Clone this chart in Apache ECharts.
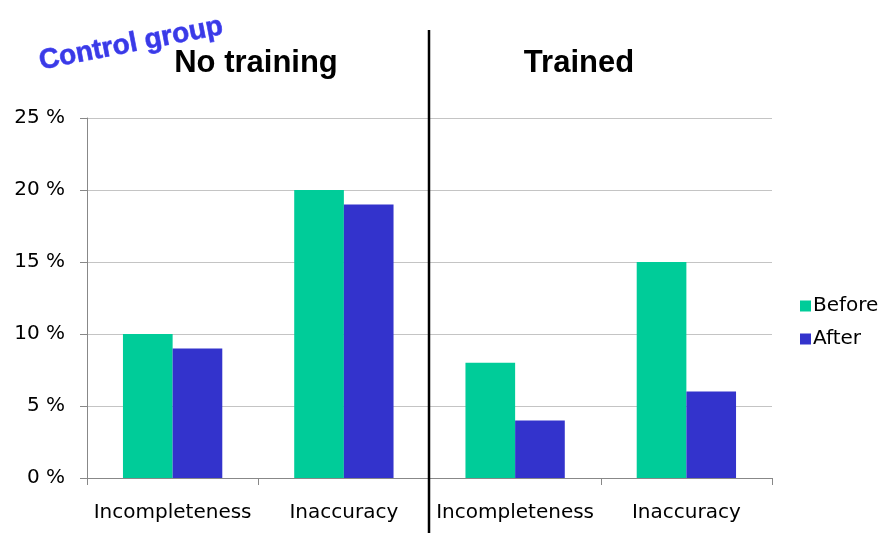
<!DOCTYPE html>
<html>
<head>
<meta charset="utf-8">
<script src="https://cdn.jsdelivr.net/npm/echarts@6/dist/echarts.min.js"></script>
<style>html,body{margin:0;padding:0;background:#fff}#c{width:885px;height:533px}</style>
</head>
<body>
<div id="c"></div>
<script>
const categories = ['Incompleteness', 'Inaccuracy', 'Incompleteness', 'Inaccuracy'];
const beforeValues = [10, 20, 8, 15];
const afterValues = [9, 19, 4, 6];
const yTicks = [0, 5, 10, 15, 20, 25];
const groupTitles = ['No training', 'Trained'];

const chart = echarts.init(document.getElementById('c'));
const font = 'Liberation Sans, Arial, sans-serif';
const labelFont = 'DejaVu Sans, sans-serif';
chart.setOption({
  animation: false,
  textStyle: { fontFamily: font },
  grid: { left: 87, right: 113, top: 118, bottom: 55, containLabel: false },
  legend: {
    orient: 'vertical', left: 795, top: 291,
    itemWidth: 11, itemHeight: 11, itemGap: 13,
    icon: 'rect',
    textStyle: { fontSize: 20, color: '#000', fontFamily: labelFont, padding: [0, 0, 0, -3] },
    data: ['Before', 'After']
  },
  xAxis: {
    type: 'category', data: categories,
    axisLine: { lineStyle: { color: '#888', width: 1 } },
    axisTick: { show: true, length: 7, interval: 0, lineStyle: { color: '#888' } },
    axisLabel: { fontSize: 20, color: '#000', margin: 25, interval: 0, fontFamily: labelFont }
  },
  yAxis: {
    type: 'value', min: yTicks[0], max: yTicks[yTicks.length - 1], interval: 5,
    axisLine: { show: true, lineStyle: { color: '#888', width: 1 } },
    axisTick: { show: true, length: 7, lineStyle: { color: '#888' } },
    axisLabel: { fontSize: 20, color: '#000', margin: 22, formatter: '{value} %', fontFamily: labelFont },
    splitLine: { lineStyle: { color: '#c4c4c4', width: 1 } }
  },
  series: [
    { name: 'Before', type: 'bar', data: beforeValues, barGap: '0%', barCategoryGap: '42%',
      itemStyle: { color: '#00CC99' } },
    { name: 'After', type: 'bar', data: afterValues, barGap: '0%', barCategoryGap: '42%',
      itemStyle: { color: '#3333CC' } }
  ],
  graphic: [
    { type: 'line', shape: { x1: 429, y1: 30, x2: 429, y2: 533 }, style: { stroke: '#000', lineWidth: 2.5 }, z: 100 },
    { type: 'text', x: 256, y: 63, style: { text: groupTitles[0], font: 'bold 31px ' + font, fill: '#000', align: 'center', verticalAlign: 'middle' } },
    { type: 'text', x: 579, y: 63, style: { text: groupTitles[1], font: 'bold 31px ' + font, fill: '#000', align: 'center', verticalAlign: 'middle' } },
    { type: 'text', x: 131, y: 44, rotation: 11 * Math.PI / 180,
      style: { text: 'Control group', font: 'bold 28px ' + font, fill: '#3a3ae6', align: 'center', verticalAlign: 'middle',
        stroke: '#6464ff', lineWidth: 0.8, shadowColor: 'rgba(0,0,120,0.35)', shadowBlur: 2, shadowOffsetX: 1, shadowOffsetY: 1 } }
  ]
});
</script>
</body>
</html>
